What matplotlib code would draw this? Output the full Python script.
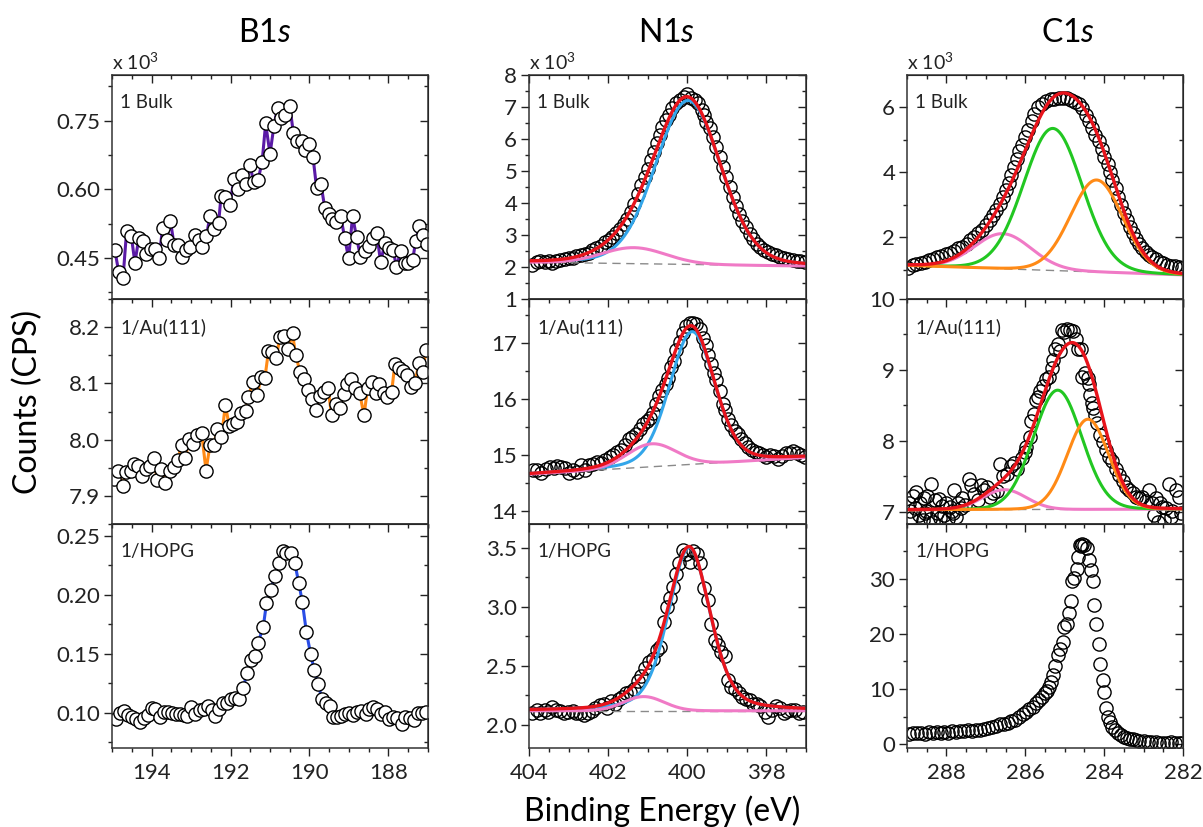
import numpy as np
import matplotlib
matplotlib.use('Agg')
import matplotlib.pyplot as plt
from matplotlib.ticker import MultipleLocator, FormatStrFormatter

plt.rcParams['font.family'] = ['Lato', 'DejaVu Sans']
plt.rcParams['mathtext.fontset'] = 'custom'
plt.rcParams['mathtext.rm'] = 'Lato'
plt.rcParams['mathtext.it'] = 'Lato:italic'

# ---------------- B1s data (counts x 10^3) ----------------
b_bulk_be = [194.93, 194.83, 194.72, 194.63, 194.51, 194.42, 194.32, 194.21, 194.13, 194.02,
             193.92, 193.81, 193.72, 193.62, 193.52, 193.43, 193.33, 193.22, 193.12, 193.02,
             192.91, 192.80, 192.71, 192.61, 192.52, 192.41, 192.30, 192.24, 192.13, 192.02,
             191.91, 191.81, 191.71, 191.61, 191.51, 191.41, 191.30, 191.20, 191.11, 191.00,
             190.90, 190.81, 190.71, 190.61, 190.50, 190.41, 190.31, 190.20, 190.11, 190.01,
             189.91, 189.82, 189.71, 189.61, 189.51, 189.42, 189.32, 189.21, 189.11, 189.01,
             188.91, 188.81, 188.71, 188.60, 188.50, 188.40, 188.30, 188.20, 188.09, 187.98,
             187.88, 187.80, 187.69, 187.59, 187.50, 187.39, 187.31, 187.22, 187.12, 187.03]
b_bulk_cps = [0.468, 0.419, 0.407, 0.509, 0.497, 0.439, 0.494, 0.487, 0.458, 0.470,
              0.470, 0.449, 0.515, 0.489, 0.531, 0.479, 0.479, 0.451, 0.468, 0.474,
              0.501, 0.490, 0.474, 0.497, 0.542, 0.514, 0.527, 0.585, 0.584, 0.566,
              0.622, 0.600, 0.631, 0.611, 0.653, 0.615, 0.621, 0.660, 0.744, 0.677,
              0.739, 0.778, 0.757, 0.762, 0.783, 0.724, 0.706, 0.706, 0.687, 0.699,
              0.670, 0.602, 0.611, 0.558, 0.546, 0.536, 0.529, 0.541, 0.494, 0.449,
              0.541, 0.496, 0.452, 0.465, 0.476, 0.494, 0.505, 0.441, 0.482, 0.472,
              0.467, 0.430, 0.465, 0.438, 0.438, 0.445, 0.487, 0.519, 0.500, 0.480]

b_au_be = [194.95, 194.84, 194.73, 194.65, 194.53, 194.44, 194.34, 194.24, 194.14, 194.04,
           193.94, 193.86, 193.75, 193.65, 193.54, 193.43, 193.34, 193.24, 193.14, 193.05,
           192.95, 192.84, 192.73, 192.62, 192.52, 192.42, 192.34, 192.23, 192.13, 192.03,
           191.93, 191.83, 191.74, 191.62, 191.55, 191.44, 191.32, 191.23, 191.13, 191.04,
           190.94, 190.84, 190.75, 190.64, 190.54, 190.43, 190.35, 190.24, 190.14, 190.03,
           189.93, 189.84, 189.74, 189.64, 189.53, 189.44, 189.33, 189.23, 189.12, 189.04,
           188.94, 188.84, 188.73, 188.62, 188.53, 188.43, 188.32, 188.24, 188.12, 188.03,
           187.92, 187.84, 187.74, 187.63, 187.53, 187.43, 187.33, 187.23, 187.13, 187.05]
b_au_cps = [7.930, 7.944, 7.917, 7.942, 7.944, 7.957, 7.954, 7.936, 7.948, 7.953,
            7.967, 7.929, 7.948, 7.923, 7.944, 7.951, 7.963, 7.990, 7.967, 8.001,
            7.992, 8.008, 8.011, 7.945, 7.990, 7.990, 8.019, 8.004, 8.061, 8.024,
            8.028, 8.031, 8.047, 8.051, 8.075, 8.102, 8.079, 8.112, 8.109, 8.157,
            8.155, 8.146, 8.182, 8.185, 8.161, 8.189, 8.150, 8.121, 8.108, 8.089,
            8.073, 8.053, 8.078, 8.085, 8.091, 8.043, 8.063, 8.057, 8.081, 8.099,
            8.108, 8.091, 8.083, 8.043, 8.091, 8.102, 8.083, 8.099, 8.083, 8.075,
            8.085, 8.134, 8.127, 8.122, 8.115, 8.093, 8.100, 8.137, 8.120, 8.160]

b_hopg_be = [194.90, 194.80, 194.69, 194.59, 194.49, 194.40, 194.30, 194.19, 194.10, 194.00,
             193.90, 193.79, 193.69, 193.58, 193.48, 193.38, 193.28, 193.18, 193.10, 192.99,
             192.89, 192.78, 192.68, 192.58, 192.48, 192.38, 192.29, 192.19, 192.08, 191.99,
             191.89, 191.78, 191.68, 191.58, 191.49, 191.38, 191.30, 191.17, 191.09, 190.98,
             190.88, 190.78, 190.68, 190.60, 190.48, 190.37, 190.27, 190.18, 190.08, 189.97,
             189.88, 189.78, 189.68, 189.59, 189.49, 189.40, 189.30, 189.21, 189.11, 189.00,
             188.89, 188.79, 188.70, 188.58, 188.49, 188.39, 188.28, 188.19, 188.08, 187.98,
             187.88, 187.78, 187.67, 187.57, 187.46, 187.36, 187.25, 187.15, 187.05]
b_hopg_cps = [0.0944, 0.1000, 0.1014, 0.0980, 0.0960, 0.0946, 0.0924, 0.0958, 0.0980, 0.1037,
              0.1031, 0.0960, 0.1003, 0.1003, 0.0994, 0.0989, 0.0986, 0.0980, 0.0972, 0.1051,
              0.0989, 0.1023, 0.1028, 0.1059, 0.1023, 0.0972, 0.1031, 0.1085, 0.1085, 0.1116,
              0.1121, 0.1116, 0.1206, 0.1339, 0.1446, 0.1480, 0.1593, 0.1729, 0.1927, 0.2040,
              0.2158, 0.2271, 0.2373, 0.2350, 0.2350, 0.2266, 0.2096, 0.1935, 0.1686, 0.1494,
              0.1362, 0.1240, 0.1113, 0.1085, 0.1059, 0.0960, 0.0966, 0.0972, 0.0986, 0.1000,
              0.0980, 0.1003, 0.1017, 0.0989, 0.1031, 0.1045, 0.1031, 0.0989, 0.1003, 0.0946,
              0.0960, 0.0952, 0.0904, 0.0960, 0.0952, 0.0938, 0.0994, 0.0995, 0.1005]

# ---------------- N1s data ----------------
n_bulk_be = [403.92, 403.81, 403.71, 403.60, 403.50, 403.41, 403.31, 403.21, 403.10, 403.00,
             402.90, 402.80, 402.69, 402.59, 402.48, 402.40, 402.30, 402.19, 402.09, 401.99,
             401.89, 401.79, 401.71, 401.61, 401.52, 401.43, 401.35, 401.25, 401.16, 401.08,
             400.99, 400.91, 400.83, 400.76, 400.70, 400.63, 400.55, 400.46, 400.38, 400.28,
             400.19, 400.09, 400.00, 399.90, 399.81, 399.73, 399.64, 399.58, 399.52, 399.43,
             399.35, 399.27, 399.18, 399.10, 399.01, 398.93, 398.84, 398.76, 398.69, 398.61,
             398.52, 398.42, 398.34, 398.25, 398.15, 398.06, 397.96, 397.86, 397.77, 397.66,
             397.56, 397.45, 397.34, 397.24, 397.14, 397.03]
n_bulk_cps = [2.06, 2.15, 2.18, 2.17, 2.20, 2.12, 2.20, 2.22, 2.25, 2.27,
              2.28, 2.33, 2.36, 2.41, 2.44, 2.53, 2.60, 2.67, 2.78, 2.85,
              2.93, 3.06, 3.19, 3.35, 3.51, 3.72, 3.98, 4.29, 4.55, 4.81,
              5.07, 5.34, 5.60, 5.88, 6.12, 6.38, 6.59, 6.75, 6.96, 7.11,
              7.22, 7.30, 7.40, 7.27, 7.22, 7.11, 6.90, 6.75, 6.54, 6.33,
              6.07, 5.75, 5.44, 5.13, 4.81, 4.50, 4.19, 3.92, 3.66, 3.45,
              3.25, 3.04, 2.88, 2.72, 2.62, 2.53, 2.46, 2.41, 2.36, 2.31,
              2.27, 2.25, 2.22, 2.20, 2.18, 2.17]

n_au_be = [403.90, 403.80, 403.69, 403.58, 403.48, 403.38, 403.29, 403.18, 403.08, 402.99,
           402.89, 402.79, 402.68, 402.58, 402.48, 402.38, 402.28, 402.17, 402.07, 401.96,
           401.88, 401.77, 401.67, 401.57, 401.47, 401.39, 401.29, 401.20, 401.12, 401.03,
           400.95, 400.87, 400.78, 400.71, 400.64, 400.55, 400.49, 400.40, 400.34, 400.28,
           400.19, 400.11, 400.02, 399.94, 399.86, 399.77, 399.69, 399.60, 399.53, 399.48,
           399.41, 399.33, 399.27, 399.18, 399.11, 399.05, 398.97, 398.89, 398.80, 398.72,
           398.63, 398.55, 398.47, 398.36, 398.27, 398.19, 398.09, 398.00, 397.90, 397.81,
           397.71, 397.61, 397.51, 397.41, 397.33, 397.22, 397.12, 397.03]
n_au_cps = [14.72, 14.73, 14.67, 14.75, 14.78, 14.76, 14.79, 14.78, 14.76, 14.67,
            14.72, 14.69, 14.81, 14.73, 14.82, 14.84, 14.87, 14.85, 14.90, 14.96,
            15.00, 15.05, 15.09, 15.18, 15.27, 15.31, 15.37, 15.46, 15.55, 15.60,
            15.66, 15.74, 15.91, 16.04, 16.15, 16.27, 16.36, 16.56, 16.68, 16.87,
            17.02, 17.17, 17.29, 17.35, 17.36, 17.33, 17.24, 17.08, 16.96, 16.78,
            16.62, 16.45, 16.33, 16.14, 15.90, 15.79, 15.64, 15.52, 15.43, 15.37,
            15.28, 15.21, 15.14, 15.09, 15.05, 15.02, 14.99, 14.96, 15.00, 14.97,
            14.93, 14.97, 15.03, 15.02, 15.06, 15.03, 14.99, 14.96]

n_hopg_be = [403.92, 403.81, 403.71, 403.60, 403.52, 403.41, 403.31, 403.21, 403.12, 403.01,
             402.90, 402.82, 402.72, 402.62, 402.51, 402.42, 402.32, 402.21, 402.11, 402.02,
             401.92, 401.82, 401.73, 401.64, 401.54, 401.44, 401.35, 401.25, 401.16, 401.06,
             400.97, 400.87, 400.77, 400.68, 400.59, 400.52, 400.44, 400.36, 400.29, 400.21,
             400.12, 400.02, 399.94, 399.86, 399.75, 399.67, 399.59, 399.48, 399.39, 399.31,
             399.22, 399.14, 399.05, 398.97, 398.89, 398.80, 398.69, 398.61, 398.52, 398.42,
             398.34, 398.24, 398.15, 398.04, 397.96, 397.85, 397.77, 397.66, 397.56, 397.47,
             397.37, 397.27, 397.18, 397.08]
n_hopg_cps = [2.10, 2.13, 2.10, 2.13, 2.11, 2.15, 2.13, 2.12, 2.10, 2.11,
              2.12, 2.10, 2.10, 2.08, 2.10, 2.12, 2.14, 2.17, 2.18, 2.14,
              2.20, 2.18, 2.22, 2.24, 2.27, 2.28, 2.30, 2.37, 2.41, 2.48,
              2.53, 2.56, 2.63, 2.66, 2.87, 3.00, 3.07, 3.17, 3.28, 3.37,
              3.48, 3.45, 3.38, 3.47, 3.45, 3.37, 3.16, 3.06, 2.85, 2.72,
              2.68, 2.62, 2.58, 2.38, 2.32, 2.30, 2.27, 2.24, 2.22, 2.21,
              2.18, 2.18, 2.16, 2.11, 2.07, 2.13, 2.16, 2.14, 2.10, 2.12,
              2.13, 2.13, 2.10, 2.11]

# ---------------- C1s data ----------------
c_bulk_be = [288.97, 288.86, 288.76, 288.65, 288.55, 288.44, 288.34, 288.24, 288.13, 288.02,
             287.92, 287.81, 287.71, 287.60, 287.49, 287.39, 287.30, 287.20, 287.09, 286.99,
             286.90, 286.82, 286.74, 286.65, 286.57, 286.50, 286.42, 286.36, 286.29, 286.21,
             286.15, 286.08, 286.00, 285.92, 285.83, 285.77, 285.68, 285.57, 285.47, 285.36,
             285.26, 285.15, 285.05, 284.95, 284.84, 284.74, 284.65, 284.55, 284.46, 284.38,
             284.31, 284.23, 284.14, 284.06, 284.00, 283.91, 283.85, 283.79, 283.70, 283.64,
             283.57, 283.49, 283.43, 283.35, 283.28, 283.20, 283.11, 283.03, 282.95, 282.86,
             282.78, 282.68, 282.59, 282.50, 282.40, 282.30, 282.20, 282.10, 282.02]
c_bulk_cps = [1.05, 1.15, 1.18, 1.22, 1.25, 1.30, 1.32, 1.38, 1.43, 1.49,
              1.53, 1.59, 1.66, 1.71, 1.79, 1.90, 2.00, 2.12, 2.23, 2.38,
              2.53, 2.69, 2.84, 3.03, 3.23, 3.46, 3.68, 3.92, 4.15, 4.40,
              4.64, 4.84, 5.08, 5.30, 5.56, 5.79, 6.00, 6.10, 6.19, 6.25,
              6.26, 6.27, 6.28, 6.27, 6.23, 6.17, 6.10, 5.97, 5.76, 5.56,
              5.35, 5.15, 4.95, 4.71, 4.48, 4.26, 4.02, 3.76, 3.51, 3.25,
              3.00, 2.74, 2.53, 2.33, 2.12, 1.94, 1.79, 1.66, 1.56, 1.46,
              1.38, 1.32, 1.25, 1.20, 1.15, 1.12, 1.10, 1.08, 1.05]

c_au_be = [288.95, 288.93, 288.90, 288.86, 288.80, 288.76, 288.70, 288.67, 288.60, 288.58,
           288.55, 288.52, 288.49, 288.42, 288.38, 288.33, 288.30, 288.25, 288.19, 288.17,
           288.12, 288.05, 288.02, 287.95, 287.92, 287.85, 287.83, 287.82, 287.75, 287.71,
           287.62, 287.60, 287.52, 287.44, 287.38, 287.30, 287.21, 287.13, 287.05, 286.98,
           286.90, 286.81, 286.72, 286.64, 286.56, 286.47, 286.37, 286.29, 286.20, 286.08,
           286.00, 285.98, 285.89, 285.85, 285.78, 285.73, 285.68, 285.62, 285.56, 285.47,
           285.39, 285.32, 285.30, 285.24, 285.18, 285.12, 285.07, 285.01, 284.95, 284.87,
           284.80, 284.71, 284.67, 284.59, 284.55, 284.49, 284.42, 284.38, 284.36, 284.31,
           284.28, 284.23, 284.17, 284.11, 284.04, 283.96, 283.87, 283.79, 283.70, 283.62,
           283.53, 283.45, 283.37, 283.28, 283.20, 283.11, 283.03, 282.95, 282.86, 282.78,
           282.74, 282.68, 282.64, 282.59, 282.52, 282.48, 282.44, 282.36, 282.31, 282.27,
           282.19, 282.10, 282.05]
c_au_cps = [7.12, 7.02, 6.92, 7.22, 7.05, 7.28, 6.95, 7.12, 6.88, 7.19,
            6.98, 7.02, 7.22, 6.90, 7.40, 6.86, 7.17, 6.98, 7.18, 6.91,
            7.09, 6.95, 7.12, 6.90, 7.07, 7.02, 6.98, 7.31, 6.93, 7.12,
            7.05, 7.19, 7.10, 7.47, 7.38, 7.25, 7.17, 7.38, 7.31, 7.35,
            7.21, 7.26, 7.30, 7.68, 7.50, 7.54, 7.65, 7.69, 7.61, 7.76,
            7.84, 7.92, 8.06, 8.28, 8.38, 8.58, 8.62, 8.70, 8.78, 8.87,
            8.90, 9.03, 9.14, 9.29, 9.36, 9.27, 9.57, 9.53, 9.58, 9.57,
            9.55, 9.44, 9.29, 9.29, 8.90, 8.96, 8.89, 8.80, 8.65, 8.54,
            8.46, 8.36, 8.25, 8.09, 7.99, 7.87, 7.78, 7.72, 7.61, 7.52,
            7.43, 7.35, 7.31, 7.26, 7.21, 7.19, 7.21, 7.16, 7.31, 7.12,
            6.95, 7.19, 6.86, 7.12, 7.07, 6.88, 7.05, 7.40, 6.93, 7.02,
            7.31, 7.21, 6.98]

c_hopg_be = [288.95, 288.85, 288.75, 288.65, 288.55, 288.45, 288.35, 288.25, 288.15, 288.05,
             287.95, 287.85, 287.75, 287.65, 287.55, 287.45, 287.35, 287.25, 287.15, 287.05,
             286.95, 286.85, 286.75, 286.65, 286.55, 286.45, 286.35, 286.25, 286.15, 286.05,
             285.98, 285.90, 285.81, 285.72, 285.64, 285.57, 285.51, 285.46, 285.41, 285.35,
             285.29, 285.24, 285.18, 285.12, 285.05, 285.01, 284.95, 284.90, 284.84, 284.82,
             284.76, 284.70, 284.67, 284.61, 284.58, 284.55, 284.50, 284.44, 284.39, 284.34,
             284.29, 284.25, 284.21, 284.14, 284.10, 284.04, 284.00, 283.96, 283.91, 283.86,
             283.79, 283.72, 283.66, 283.58, 283.50, 283.42, 283.35, 283.28, 283.20, 283.11,
             283.00, 282.90, 282.80, 282.69, 282.60, 282.50, 282.40, 282.30, 282.20, 282.10,
             282.02]
c_hopg_cps = [1.85, 2.05, 1.95, 2.10, 1.90, 2.15, 2.00, 2.20, 2.05, 2.25,
              2.10, 2.30, 2.20, 2.40, 2.30, 2.50, 2.45, 2.60, 2.65, 2.80,
              2.85, 3.05, 3.20, 3.65, 3.60, 3.85, 4.20, 4.45, 4.95, 5.40,
              5.90, 6.30, 6.80, 7.40, 8.00, 8.60, 9.20, 9.60, 10.4, 11.3,
              12.5, 14.2, 16.2, 17.2, 18.6, 21.3, 21.8, 23.8, 26.0, 29.6,
              30.2, 31.7, 33.9, 36.1, 36.0, 36.3, 36.1, 35.5, 33.3, 31.5,
              29.6, 25.2, 21.8, 18.1, 14.5, 11.6, 9.4, 6.5, 5.0, 4.05,
              3.15, 2.54, 2.06, 1.63, 1.35, 1.15, 0.98, 0.85, 0.72, 0.60,
              0.52, 0.42, 0.38, 0.30, 0.28, 0.25, 0.24, 0.30, 0.18, 0.15,
              0.12]

# fit components: [centre eV, height, fwhm eV, lorentz fraction]
# backgrounds: [value at high BE edge, value at low BE edge]
n_bulk_bg = [2.15, 2.03]
n_bulk_main = [399.98, 5.12, 1.95, 0.15]
n_bulk_side = [401.35, 0.50, 1.90, 0.0]
n_au_bg = [14.65, 14.95]
n_au_main = [399.88, 2.37, 1.35, 0.2]
n_au_side = [400.90, 0.41, 1.45, 0.0]
n_hopg_bg = [2.12, 2.12]
n_hopg_main = [399.95, 1.38, 1.25, 0.35]
n_hopg_side = [401.10, 0.12, 1.20, 0.0]

c_bulk_bg = [1.13, 0.84]
c_bulk_green = [285.30, 4.37, 1.75, 0.05]
c_bulk_orange = [284.19, 2.83, 1.56, 0.05]
c_bulk_pink = [286.57, 1.08, 1.70, 0.05]
c_au_bg = [7.03, 7.04]
c_au_green = [285.18, 1.68, 1.45, 0.05]
c_au_orange = [284.41, 1.27, 1.24, 0.05]
c_au_pink = [286.53, 0.28, 1.30, 0.0]

RED = '#e8141c'
BLUE = '#33a6ea'
PINK = '#f07ac6'
GREEN = '#22c722'
ORANGE = '#ff8a16'
GREY = '#8a8a8a'


def gl(x, p):
    c, h, w, m = p
    t = (x - c) / w
    return h * ((1 - m) * np.exp(-4 * np.log(2) * t ** 2) + m / (1 + 4 * t ** 2))


fig = plt.figure(figsize=(12.03, 8.27), dpi=100)

W, H = 1203.0, 827.0
col_x = [(112, 428), (529, 806), (907, 1183)]
row_y = [(75, 299), (299, 524), (524, 748)]


def make_ax(c, r):
    x0, x1 = col_x[c]
    y0, y1 = row_y[r]
    return fig.add_axes([x0 / W, 1 - y1 / H, (x1 - x0) / W, (y1 - y0) / H])


def style(ax, xlim, ylim, ymaj, ymin, yfmt, last_row):
    ax.set_xlim(*xlim)
    ax.set_ylim(*ylim)
    ax.xaxis.set_major_locator(MultipleLocator(2))
    ax.xaxis.set_minor_locator(MultipleLocator(0.5))
    ax.yaxis.set_major_locator(MultipleLocator(ymaj))
    ax.yaxis.set_minor_locator(MultipleLocator(ymin))
    ax.yaxis.set_major_formatter(FormatStrFormatter(yfmt))
    ax.tick_params(which='both', direction='out', labelsize=16, colors='#222222', width=1)
    ax.tick_params(which='major', length=5.5)
    ax.tick_params(which='minor', length=3)
    ax.tick_params(axis='x', labelbottom=last_row, pad=5)
    ax.tick_params(axis='y', pad=3)
    for s in ax.spines.values():
        s.set_linewidth(1.1)
        s.set_color('#333333')
    # ticks on top and right point inward
    top = ax.secondary_xaxis('top')
    top.xaxis.set_major_locator(MultipleLocator(2))
    top.xaxis.set_minor_locator(MultipleLocator(0.5))
    top.tick_params(which='both', direction='in', labeltop=False, width=1, colors='#222222')
    top.tick_params(which='major', length=5.5)
    top.tick_params(which='minor', length=3)
    right = ax.secondary_yaxis('right')
    right.yaxis.set_major_locator(MultipleLocator(ymaj))
    right.yaxis.set_minor_locator(MultipleLocator(ymin))
    right.tick_params(which='both', direction='in', labelright=False, width=1, colors='#222222')
    right.tick_params(which='major', length=5.5)
    right.tick_params(which='minor', length=3)


def label(ax, txt):
    ax.annotate(txt, xy=(0, 1), xycoords='axes fraction', xytext=(6, -20),
                textcoords='offset points', va='center', ha='left', fontsize=13.5, color='#222222')


mk = dict(marker='o', markersize=9.5, markeredgecolor='black', markeredgewidth=1.0)

# ---------------- B1s column ----------------
b_sets = [(b_bulk_be, b_bulk_cps, '#5a1aa6', (0.36, 0.85), 0.15, 0.075, '%.2f', '1 Bulk'),
          (b_au_be, b_au_cps, ORANGE, (7.85, 8.25), 0.1, 0.05, '%.1f', '1/Au(111)'),
          (b_hopg_be, b_hopg_cps, '#2a4de6', (0.07, 0.26), 0.05, 0.025, '%.2f', '1/HOPG')]
for r, (xx, yy, col, yl, ma, mi, fmt, name) in enumerate(b_sets):
    ax = make_ax(0, r)
    ax.plot(xx, yy, '-', color=col, lw=2.2, markerfacecolor='white', **mk)
    style(ax, (195, 187), yl, ma, mi, fmt, r == 2)
    label(ax, name)

# ---------------- N1s column ----------------
n_sets = [(n_bulk_be, n_bulk_cps, n_bulk_bg, n_bulk_main, n_bulk_side, (1, 8), 1, 0.5, '%d', '1 Bulk'),
          (n_au_be, n_au_cps, n_au_bg, n_au_main, n_au_side, (13.76, 17.78), 1, 0.5, '%d', '1/Au(111)'),
          (n_hopg_be, n_hopg_cps, n_hopg_bg, n_hopg_main, n_hopg_side, (1.805, 3.70), 0.5, 0.25, '%.1f', '1/HOPG')]
xs = np.linspace(404, 397, 500)
for r, (xx, yy, bgp, p1, p2, yl, ma, mi, fmt, name) in enumerate(n_sets):
    ax = make_ax(1, r)
    bg = np.linspace(bgp[0], bgp[1], xs.size)
    ax.plot(xx, yy, linestyle='none', markerfacecolor='none', **mk)
    ax.plot(xs, bg, '--', color=GREY, lw=1.0, dashes=(6, 4))
    ax.plot(xs, bg + gl(xs, p1), color=BLUE, lw=2.2)
    ax.plot(xs, bg + gl(xs, p2), color=PINK, lw=2.2)
    ax.plot(xs, bg + gl(xs, p1) + gl(xs, p2), color=RED, lw=2.4)
    style(ax, (404, 397), yl, ma, mi, fmt, r == 2)
    label(ax, name)

# ---------------- C1s column ----------------
xc = np.linspace(289, 282, 500)
c_sets = [(c_bulk_be, c_bulk_cps, c_bulk_bg, [c_bulk_pink, c_bulk_green, c_bulk_orange], (0.1, 6.99), 2, 1, '1 Bulk'),
          (c_au_be, c_au_cps, c_au_bg, [c_au_pink, c_au_green, c_au_orange], (6.83, 10.0), 1, 0.5, '1/Au(111)')]
for r, (xx, yy, bgp, comps, yl, ma, mi, name) in enumerate(c_sets):
    ax = make_ax(2, r)
    bg = np.linspace(bgp[0], bgp[1], xc.size)
    ax.plot(xx, yy, linestyle='none', markerfacecolor='none', **mk)
    ax.plot(xc, bg, '--', color=GREY, lw=1.0, dashes=(6, 4))
    total = bg.copy()
    for p, col in zip(comps, [PINK, GREEN, ORANGE]):
        ax.plot(xc, bg + gl(xc, p), color=col, lw=2.2)
        total = total + gl(xc, p)
    ax.plot(xc, total, color=RED, lw=2.4)
    style(ax, (289, 282), yl, ma, mi, '%d', False)
    label(ax, name)

ax = make_ax(2, 2)
ax.plot(c_hopg_be, c_hopg_cps, linestyle='none', markerfacecolor='none', **mk)
style(ax, (289, 282), (-0.7, 39.9), 10, 5, '%d', True)
label(ax, '1/HOPG')

# ---------------- titles and axis labels ----------------
fig.text(265 / W, 1 - 42 / H, r'B$\mathit{1s}$', ha='center', va='baseline', fontsize=23)
fig.text(667 / W, 1 - 42 / H, r'N$\mathit{1s}$', ha='center', va='baseline', fontsize=23)
fig.text(1068 / W, 1 - 42 / H, r'C$\mathit{1s}$', ha='center', va='baseline', fontsize=23)
for x0 in [112, 529, 907]:
    fig.text(x0 / W, 1 - 62 / H, r'x 10$^{3}$', ha='left', va='center', fontsize=14, color='#222222')

fig.text(28 / W, 1 - 402 / H, 'Counts (CPS)', rotation=90, ha='center', va='center', fontsize=23)
fig.text(662 / W, 1 - 821 / H, 'Binding Energy (eV)', ha='center', va='baseline', fontsize=23)

fig.savefig('out.png', dpi=100)
